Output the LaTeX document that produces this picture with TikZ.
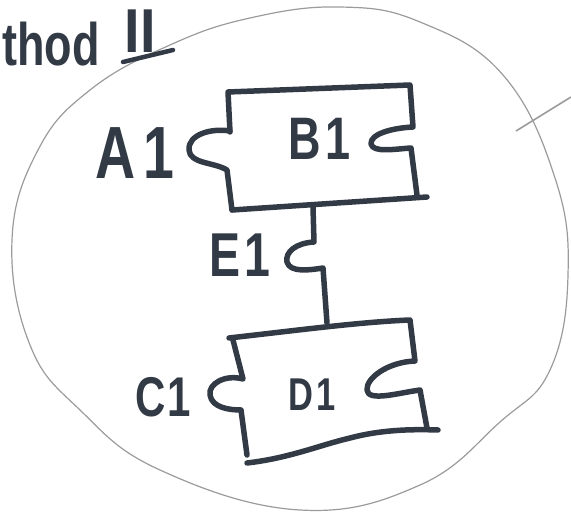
\documentclass[tikz,border=0pt]{standalone}
\usepackage{fontspec}
\setmainfont{Liberation Sans}
\definecolor{ink}{RGB}{50,58,70}
\definecolor{pencil}{RGB}{155,155,155}
\begin{document}
\begin{tikzpicture}[x=1pt,y=-1pt,
  piece/.style={draw=ink, line width=5.5pt, line cap=round, line join=round},
  rim/.style={draw=pencil, line width=1.2pt},
  lbl/.style={text=ink, inner sep=0pt, xscale=0.75, transform shape}]
\useasboundingbox (0,0) rectangle (571,513);
% outer pencil circle
\draw[rim] plot[smooth cycle, tension=0.7] coordinates {
  (12,240) (30,345) (80,410) (160,470)
  (300,510) (420,485) (500,422) (550,370) (568,275) (555,178)
  (503,75) (420,22) (340,7) (250,18) (170,45)
  (90,90) (38,150)};
% pointer stroke
\coordinate (p0) at (516,131);
\coordinate (p1) at (571,97);
\draw[draw=pencil, line width=1.6pt] (p0) -- (p1);
% title
\node[lbl, font=\fontsize{60}{60}\selectfont\bfseries, anchor=base west] (title) at (2,66) {thod};
\node[lbl, xscale=1.2, font=\fontsize{62}{62}\selectfont\bfseries, anchor=base] (num) at (140,53) {II};
\coordinate (u0) at (123,62);
\coordinate (u1) at (173,50);
\draw[piece, line width=4.5pt] (u0) -- (u1);
% piece B
\draw[piece] (230,132) -- (228,92) -- (410,85) -- (413,127)
  .. controls (392,128) and (370,134) .. (371,144)
  .. controls (373,153) and (395,149) .. (411,148) -- (417,195);
\draw[piece] (230,131) .. controls (212,128) and (188,134) .. (189,150)
  .. controls (190,164) and (214,162) .. (227,170) -- (232,210);
\draw[piece] (232,210) -- (427,197);
% connector E
\draw[piece] (313,207) -- (314,242)
  .. controls (296,243) and (285,252) .. (287,262)
  .. controls (290,273) and (310,270) .. (323,268) -- (327,323);
% piece D
\draw[piece] (229,338) .. controls (300,330) and (360,322) .. (410,320) -- (415,361)
  .. controls (388,362) and (366,378) .. (367,390)
  .. controls (368,402) and (398,393) .. (420,390) -- (427,428);
\draw[piece] (233,340) -- (243,379)
  .. controls (225,374) and (208,384) .. (210,395)
  .. controls (212,408) and (230,410) .. (241,410) -- (247,455);
\draw[piece] (247,463) .. controls (290,458) and (320,445) .. (350,438)
  .. controls (380,430) and (410,429) .. (438,430);
% labels
\node[lbl, font=\fontsize{74}{74}\selectfont\bfseries] (a1) at (135,153) {A\hspace{0.15em}1};
\node[lbl, font=\fontsize{60}{60}\selectfont\bfseries] (b1) at (320,139) {B\hspace{0.1em}1};
\node[lbl, font=\fontsize{62}{62}\selectfont\bfseries] (e1) at (240,255) {E\hspace{0.1em}1};
\node[lbl, font=\fontsize{56}{56}\selectfont\bfseries] (c1) at (163,397) {C\hspace{0.05em}1};
\node[lbl, font=\fontsize{46}{46}\selectfont\bfseries] (d1) at (312,395) {D\hspace{0.1em}1};
\end{tikzpicture}
\end{document}
